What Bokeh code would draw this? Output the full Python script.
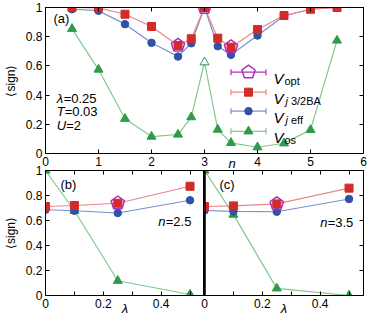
import math
from bokeh.plotting import figure
from bokeh.models import (LinearAxis, FixedTicker, CustomJSTickFormatter, Label, Span,
                          ColumnDataSource, Range1d, Title)
from bokeh.layouts import column, row
from bokeh.embed import file_html
from bokeh.resources import INLINE

# ---------------- data ----------------
# panel (a): <sign> versus filling n  (lambda=0.25, T=0.03, U=2)
n_vals = [0.5, 1, 1.5, 2, 2.5, 2.75, 3, 3.25, 3.5, 4, 4.5, 5, 5.5]
sign_j32ba = [1.0, 0.998, 0.954, 0.87, 0.74, 0.786, 1.0, 0.79, 0.728, 0.849, 0.945, 0.988, 1.0]
sign_jeff = [0.988, 0.978, 0.886, 0.758, 0.664, 0.755, 1.0, 0.735, 0.676, 0.808, 0.942, 0.988, 1.0]
sign_os = [0.854, 0.575, 0.238, 0.116, 0.13, 0.249, 0.625, 0.164, 0.073, 0.043, 0.07, 0.162, 0.774]
os_open_n = [3.0]
opt_n = [2.5, 3.0, 3.5]
sign_opt = [0.74, 1.0, 0.73]

# panels (b) n=2.5 and (c) n=3.5: <sign> versus lambda
lam_vals = [0, 0.1, 0.25, 0.5]
b_j32ba = [0.712, 0.72, 0.738, 0.874]
b_jeff = [0.686, 0.678, 0.66, 0.762]
b_os = [1.0, 0.678, 0.118, 0.008]
b_opt_lam = [0.25]
b_opt = [0.74]
c_j32ba = [0.712, 0.717, 0.733, 0.859]
c_jeff = [0.68, 0.673, 0.67, 0.772]
c_os = [1.0, 0.647, 0.057, 0.0]
c_opt_lam = [0.25]
c_opt = [0.733]

n_ticks = [0, 1, 2, 3, 4, 5, 6]
sign_ticks = [0, 0.2, 0.4, 0.6, 0.8, 1.0]
lam_major = [0, 0.2, 0.4]
lam_minor = [0.1, 0.3, 0.5]

# ---------------- style ----------------
FONT = "Liberation Sans"
MAG = "#b02cb8"
RED, RED_L = "#d42a2a", "#e88888"
BLUE, BLUE_L = "#2f52a6", "#7890cc"
GREEN, GREEN_L = "#2e9a4a", "#80c890"

label_fmt = CustomJSTickFormatter(code="return String(Math.round(tick*10)/10)")


def style_axis(ax, ticker, labels=True):
    ax.ticker = ticker
    ax.major_tick_in = 4
    ax.major_tick_out = 0
    ax.minor_tick_in = 4
    ax.minor_tick_out = 0
    ax.axis_line_color = "black"
    ax.major_tick_line_color = "black"
    ax.minor_tick_line_color = "black"
    ax.major_label_text_font = FONT
    ax.major_label_text_color = "black"
    if labels:
        ax.formatter = label_fmt
        ax.major_label_text_font_size = "12px"
        ax.major_label_standoff = 3
    else:
        ax.formatter = CustomJSTickFormatter(code="return ''")
        ax.major_label_text_font_size = "1px"
        ax.major_label_standoff = 0


def base_fig(width, height, xr, yr, **kw):
    p = figure(width=width, height=height, x_range=Range1d(*xr), y_range=Range1d(*yr),
               output_backend="svg", toolbar_location=None, **kw)
    p.xgrid.visible = False
    p.ygrid.visible = False
    p.outline_line_color = "black"
    p.outline_line_width = 1
    return p


def ylabel(ax):
    ax.axis_label = "⟨sign⟩"
    ax.axis_label_text_font = FONT
    ax.axis_label_text_font_size = "12px"
    ax.axis_label_text_font_style = "normal"
    ax.axis_label_text_color = "black"
    ax.axis_label_standoff = 5


def lab(p, x, y, text, size="13px", style="normal", xo=0, baseline="middle", align="left"):
    p.add_layout(Label(x=x, y=y, text=text, x_offset=xo, text_font=FONT, text_font_size=size,
                       text_font_style=style, text_color="black", text_baseline=baseline,
                       text_align=align))


def series(p, xs, red, blue, green, green_fill):
    src = ColumnDataSource(dict(x=xs, r=red, b=blue, g=green, gf=green_fill))
    p.line("x", "g", source=src, line_color=GREEN_L, line_width=1.2)
    p.line("x", "b", source=src, line_color=BLUE_L, line_width=1.2)
    p.line("x", "r", source=src, line_color=RED_L, line_width=1.2)
    p.scatter("x", "g", source=src, marker="triangle", size=9, fill_color="gf",
              line_color=GREEN, line_width=1)
    p.scatter("x", "b", source=src, marker="circle", size=7.5, fill_color=BLUE, line_color=BLUE)
    p.scatter("x", "r", source=src, marker="square", size=8, fill_color=RED, line_color=RED)


def pentagons(p, xs, ys):
    p.ngon(x=xs, y=ys, radius=7, radius_units="screen", n=5, angle=0,
           fill_color=None, line_color=MAG, line_width=1.5)


# ---------------- panel (a) ----------------
top = base_fig(374, 170, (0, 6), (0, 1), min_border_left=44, min_border_right=11,
               min_border_top=7, min_border_bottom=17)
style_axis(top.xaxis[0], FixedTicker(ticks=n_ticks))
style_axis(top.yaxis[0], FixedTicker(ticks=sign_ticks))
ylabel(top.yaxis[0])
ax_r = LinearAxis()
style_axis(ax_r, FixedTicker(ticks=sign_ticks), labels=False)
top.add_layout(ax_r, "right")
ax_t = LinearAxis()
style_axis(ax_t, FixedTicker(ticks=n_ticks), labels=False)
top.add_layout(ax_t, "above")

gfill = ["white" if v in os_open_n else GREEN for v in n_vals]
series(top, n_vals, sign_j32ba, sign_jeff, sign_os, gfill)
pentagons(top, opt_n, sign_opt)

# legend (drawn by hand so the subscripts can be typeset)
leg_y = [0.557, 0.42, 0.29, 0.152]
leg_x0, leg_xm, leg_x1, leg_tx = 3.50, 3.83, 4.16, 4.30
leg_cols = [MAG, RED_L, BLUE_L, GREEN_L]
for yy, lc in zip(leg_y, leg_cols):
    top.segment(x0=[leg_x0], y0=[yy], x1=[leg_x1], y1=[yy], line_color=lc, line_width=1.2)
    top.scatter(x=[leg_x0, leg_x1], y=[yy, yy], marker="dash", angle=math.pi / 2, size=6,
                line_color=lc, line_width=1.2)
pentagons(top, [leg_xm], [leg_y[0]])
top.scatter(x=[leg_xm], y=[leg_y[1]], marker="square", size=8, fill_color=RED, line_color=RED)
top.scatter(x=[leg_xm], y=[leg_y[2]], marker="circle", size=7.5, fill_color=BLUE, line_color=BLUE)
top.scatter(x=[leg_xm], y=[leg_y[3]], marker="triangle", size=9, fill_color=GREEN, line_color=GREEN)

PX = 1 / 146.0
subs = [[("opt", "normal", 11)], [("j", "italic", 12), ("3/2BA", "normal", 17.5)],
        [("j", "italic", 12), ("eff", "normal", 17.5)], [("os", "normal", 11)]]
for yy, parts in zip(leg_y, subs):
    lab(top, leg_tx, yy - 6 * PX, "V", size="15px", style="italic", baseline="alphabetic")
    for t, st, xo in parts:
        lab(top, leg_tx, yy - 8.5 * PX, t, size="11px", style=st, xo=xo, baseline="alphabetic")

lab(top, 0.15, 0.927, "(a)")
lab(top, 0.21, 0.378, "λ", style="italic")
lab(top, 0.21, 0.378, "=0.25", xo=7)
lab(top, 0.21, 0.289, "T", style="italic")
lab(top, 0.21, 0.289, "=0.03", xo=8)
lab(top, 0.21, 0.194, "U", style="italic")
lab(top, 0.21, 0.194, "=2", xo=9.5)

# ---------------- panels (b) and (c) ----------------
b = base_fig(204, 170, (0, 0.55), (0, 1), min_border_left=44, min_border_right=0,
             min_border_top=22, min_border_bottom=22, border_fill_alpha=0)
c = base_fig(174, 170, (0, 0.55), (0, 1), y_axis_location=None, min_border_left=4,
             min_border_right=11, min_border_top=22, min_border_bottom=22, border_fill_alpha=0,
             margin=(0, 0, 0, -4))

for p in (b, c):
    style_axis(p.xaxis[0], FixedTicker(ticks=lam_major, minor_ticks=lam_minor))
    p.xaxis[0].axis_label = "λ"
    p.xaxis[0].axis_label_text_font = FONT
    p.xaxis[0].axis_label_text_font_size = "13px"
    p.xaxis[0].axis_label_text_font_style = "italic"
    p.xaxis[0].axis_label_text_color = "black"
    p.xaxis[0].axis_label_standoff = -10
    at = LinearAxis()
    style_axis(at, FixedTicker(ticks=lam_major, minor_ticks=lam_minor), labels=False)
    p.add_layout(at, "above")

# x-axis title "n" of panel (a), which sits just above panel (c)
c.add_layout(Title(text="n", align="left", offset=24, standoff=0, text_font=FONT,
                   text_font_size="13px", text_font_style="italic", text_color="black"), "above")

style_axis(b.yaxis[0], FixedTicker(ticks=sign_ticks))
ylabel(b.yaxis[0])

ar = LinearAxis()
style_axis(ar, FixedTicker(ticks=sign_ticks), labels=False)
c.add_layout(ar, "right")
c.add_layout(Span(location=0, dimension="height", line_color="black", line_width=2.5))

series(b, lam_vals, b_j32ba, b_jeff, b_os, [GREEN] * len(lam_vals))
pentagons(b, b_opt_lam, b_opt)
series(c, lam_vals, c_j32ba, c_jeff, c_os, [GREEN] * len(lam_vals))
pentagons(c, c_opt_lam, c_opt)

lab(b, 0.052, 0.89, "(b)")
lab(b, 0.39, 0.59, "n", style="italic")
lab(b, 0.39, 0.59, "=2.5", xo=7.5)
lab(c, 0.052, 0.89, "(c)")
lab(c, 0.40, 0.585, "n", style="italic")
lab(c, 0.40, 0.585, "=3.5", xo=7.5)

bottom = row(b, c, margin=(-22, 0, 0, 0))
layout = column(top, bottom)

open("out.html", "w").write(file_html(layout, INLINE))
